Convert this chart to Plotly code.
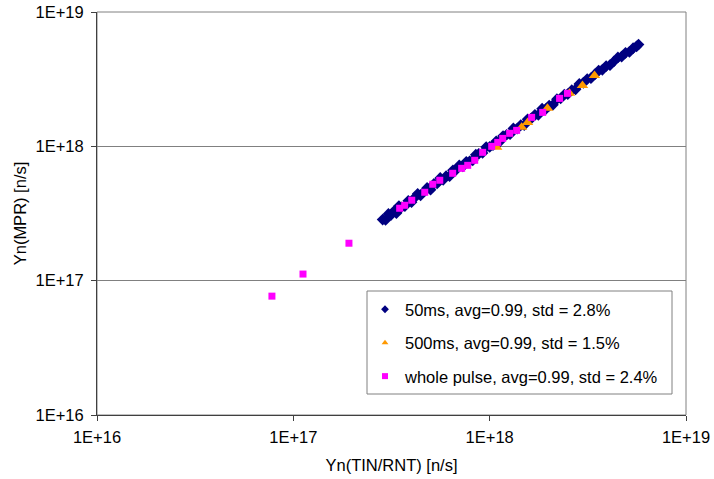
import plotly.graph_objects as go

# ---- data ----
ms50_x = [2.85e17, 2.95e17, 3.05e17, 3.15e17, 3.25e17, 3.35e17, 3.45e17, 3.55e17, 3.7e17, 3.85e17,
          4.0e17, 4.15e17, 4.3e17, 4.45e17, 4.6e17, 4.8e17, 5.0e17, 5.2e17, 5.4e17, 5.6e17,
          5.8e17, 6.0e17, 6.25e17, 6.5e17, 6.75e17, 7.0e17, 7.3e17, 7.6e17, 7.9e17, 8.2e17,
          8.5e17, 8.8e17, 9.2e17, 9.6e17, 1.00e18, 1.04e18, 1.08e18, 1.12e18, 1.17e18, 1.22e18,
          1.27e18, 1.32e18, 1.38e18, 1.44e18, 1.50e18, 1.56e18, 1.63e18, 1.70e18, 1.77e18, 1.85e18,
          1.93e18, 2.01e18, 2.10e18, 2.20e18, 2.30e18, 2.40e18, 2.50e18, 2.62e18, 2.74e18, 2.86e18,
          3.00e18, 3.14e18, 3.28e18, 3.43e18, 3.59e18, 3.75e18, 3.92e18, 4.10e18, 4.30e18, 4.50e18,
          4.70e18, 4.92e18, 5.15e18, 5.38e18, 5.60e18, 5.73e18]
ms50_y = [2.85e17, 2.83e17, 3.14e17, 3.09e17, 3.28e17, 3.18e17, 3.59e17, 3.51e17, 3.59e17, 3.93e17,
          3.84e17, 4.15e17, 4.43e17, 4.32e17, 4.55e17, 4.90e17, 4.75e17, 5.25e17, 5.29e17, 5.82e17,
          5.63e17, 6.00e17, 6.00e17, 6.63e17, 6.68e17, 7.21e17, 7.08e17, 7.68e17, 7.74e17, 7.87e17,
          8.67e17, 8.80e17, 8.92e17, 9.89e17, 9.90e17, 1.019e18, 1.091e18, 1.075e18, 1.193e18, 1.22e18,
          1.232e18, 1.360e18, 1.352e18, 1.44e18, 1.44e18, 1.591e18, 1.614e18, 1.717e18, 1.717e18, 1.906e18,
          1.891e18, 2.01e18, 2.037e18, 2.244e18, 2.277e18, 2.424e18, 2.45e18, 2.62e18, 2.658e18, 2.917e18,
          2.97e18, 3.171e18, 3.214e18, 3.43e18, 3.662e18, 3.713e18, 3.959e18, 4.018e18, 4.30e18, 4.59e18,
          4.653e18, 4.969e18, 5.047e18, 5.38e18, 5.544e18, 5.73e18]

ms500_x = [1.086e18, 1.455e18, 1.56e18, 1.97e18, 2.55e18, 2.97e18, 3.42e18]
ms500_y = [9.84e17, 1.384e18, 1.507e18, 1.917e18, 2.48e18, 2.84e18, 3.37e18]

whole_x = [7.78e16, 1.12e17, 1.92e17, 3.48e17, 3.69e17, 4.01e17, 4.67e17, 5.13e17, 5.57e17,
           6.48e17, 7.20e17, 7.73e17, 8.39e17, 9.21e17, 1.024e18, 1.099e18, 1.165e18, 1.264e18,
           1.372e18, 1.636e18, 1.862e18, 2.27e18, 2.49e18]
whole_y = [7.67e16, 1.12e17, 1.90e17, 3.46e17, 3.64e17, 3.97e17, 4.55e17, 5.22e17, 5.59e17,
           6.30e17, 6.86e17, 7.22e17, 7.87e17, 9.02e17, 1.00e18, 1.07e18, 1.146e18, 1.25e18,
           1.315e18, 1.643e18, 1.79e18, 2.275e18, 2.48e18]

series_names = ["50ms, avg=0.99, std = 2.8%",
                "500ms, avg=0.99, std = 1.5%",
                "whole pulse, avg=0.99, std = 2.4%"]
tick_vals = [1e16, 1e17, 1e18, 1e19]
tick_text = ["1E+16", "1E+17", "1E+18", "1E+19"]

NAVY = "#000080"
ORANGE = "#FF9900"
PINK = "#FF00FF"
FONT = "Liberation Sans, Arial, sans-serif"
FS = 16.5

fig = go.Figure()
fig.add_trace(go.Scatter(x=ms50_x, y=ms50_y, mode="markers", showlegend=False,
                         marker=dict(symbol="diamond", size=9, color=NAVY, line=dict(width=0))))
fig.add_trace(go.Scatter(x=ms500_x, y=ms500_y, mode="markers", showlegend=False,
                         marker=dict(symbol="triangle-up", size=10, color=ORANGE, line=dict(width=0))))
fig.add_trace(go.Scatter(x=whole_x, y=whole_y, mode="markers", showlegend=False,
                         marker=dict(symbol="square", size=7, color=PINK, line=dict(width=0))))

# legend entries (small symbols as in the original)
for name, sym, col, grp in [(series_names[0], "diamond", NAVY, "a"),
                            (series_names[1], "triangle-up", ORANGE, "b"),
                            (series_names[2], "square", PINK, "c")]:
    fig.add_trace(go.Scatter(x=[None], y=[None], mode="markers", name=name, legendgroup=grp,
                             marker=dict(symbol=sym, size=6, color=col, line=dict(width=0))))

L, R, T, B = 97, 28, 12, 64
W, H = 714, 479
pw, ph = W - L - R, H - T - B

def px2x(px):
    return (px - L) / pw

def py2y(py):
    return (H - B - py) / ph

fig.update_layout(
    width=W, height=H,
    margin=dict(l=L, r=R, t=T, b=B, pad=0, autoexpand=False),
    paper_bgcolor="white", plot_bgcolor="white",
    font=dict(family=FONT, size=FS, color="black"),
    showlegend=True,
    legend=dict(x=px2x(365), y=py2y(292), xanchor="left", yanchor="top",
                bgcolor="rgba(0,0,0,0)", borderwidth=0, tracegroupgap=9,
                font=dict(family=FONT, size=FS, color="black")),
    xaxis=dict(type="log", range=[16, 19], tickvals=tick_vals, ticktext=tick_text,
               automargin=False,
               showgrid=False, zeroline=False, showline=True, linecolor="#404040", linewidth=1,
               ticks="outside", ticklen=5, tickcolor="#404040", ticklabelstandoff=2,
               title=dict(text="Yn(TIN/RNT) [n/s]", standoff=14, font=dict(size=FS))),
    yaxis=dict(type="log", range=[16, 19], tickvals=tick_vals, ticktext=tick_text,
               automargin=False,
               showgrid=True, gridcolor="#808080", gridwidth=1, zeroline=False,
               showline=True, linecolor="#404040", linewidth=1,
               ticks="outside", ticklen=5, tickcolor="#404040", ticklabelstandoff=4,
               title=dict(text="Yn(MPR) [n/s]", standoff=4, font=dict(size=FS))),
    shapes=[
        dict(type="rect", xref="paper", yref="paper", x0=0, x1=1, y0=0, y1=1,
             line=dict(color="#808080", width=1), fillcolor="rgba(0,0,0,0)", layer="below"),
        dict(type="rect", xref="paper", yref="paper",
             x0=px2x(367), x1=px2x(672), y0=py2y(394), y1=py2y(291),
             line=dict(color="#808080", width=1), fillcolor="white", layer="above"),
    ],
)

fig.write_html("out.html")
